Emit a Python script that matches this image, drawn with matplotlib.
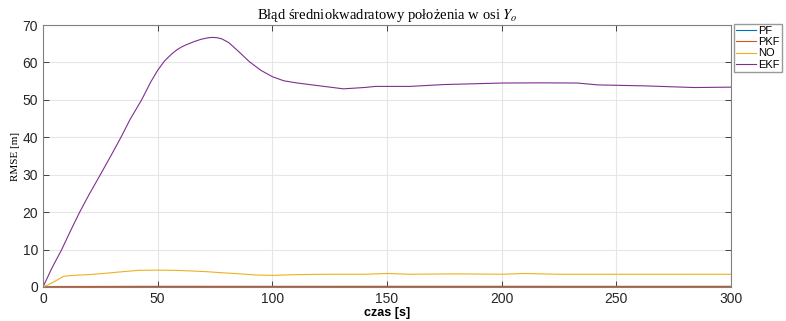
import matplotlib
matplotlib.use("Agg")
import matplotlib.pyplot as plt
import numpy as np

plt.rcParams['font.family'] = ['Liberation Sans', 'DejaVu Sans']
plt.rcParams['mathtext.fontset'] = 'stix'

# dane
t_ekf = [0, 4, 8, 12, 16, 20, 25, 30, 34, 38, 43, 47, 50, 53, 56, 58, 60, 62, 64,
         66, 69, 72, 74, 76, 78, 81, 85, 90, 95, 100, 105, 111, 120, 131, 140,
         145, 160, 175, 200, 218, 233, 242, 262, 284, 300]
ekf = [0, 5.2, 9.8, 15.0, 20.0, 24.6, 30.0, 35.5, 40.0, 44.8, 50.0, 54.8, 57.9,
       60.4, 62.2, 63.2, 64.0, 64.6, 65.1, 65.6, 66.2, 66.6, 66.7, 66.6, 66.3,
       65.3, 63.1, 60.2, 57.9, 56.2, 55.1, 54.5, 53.8, 52.95, 53.3, 53.6, 53.6,
       54.1, 54.5, 54.55, 54.5, 54.0, 53.75, 53.3, 53.4]

t_no = [0, 3, 6, 9, 13, 20, 28, 35, 42, 50, 57, 64, 71, 78, 86, 93, 100, 110,
        125, 140, 150, 160, 180, 200, 210, 225, 250, 275, 300]
no = [0, 0.8, 1.8, 2.85, 3.1, 3.3, 3.7, 4.1, 4.45, 4.5, 4.45, 4.3, 4.1, 3.8,
      3.5, 3.2, 3.1, 3.3, 3.4, 3.4, 3.6, 3.4, 3.5, 3.4, 3.6, 3.4, 3.4, 3.4, 3.4]

t_pf = [0, 5, 50, 100, 150, 200, 250, 300]
pf = [0, 0.08, 0.1, 0.1, 0.1, 0.1, 0.1, 0.1]
pkf = [0, 0.12, 0.18, 0.17, 0.18, 0.18, 0.17, 0.18]

labels = ['PF', 'PKF', 'NO', 'EKF']
colors = ['#0072BD', '#D95319', '#EDB120', '#7E2F8E']

fig = plt.figure(figsize=(7.86, 3.21), dpi=100)
ax = fig.add_axes([0.0547, 0.106, 0.8753, 0.816])

ax.plot(t_pf, pf, color=colors[0], lw=0.8, label=labels[0])
ax.plot(t_pf, pkf, color=colors[1], lw=0.8, label=labels[1])
ax.plot(t_no, no, color=colors[2], lw=0.8, label=labels[2])
ax.plot(t_ekf, ekf, color=colors[3], lw=0.8, label=labels[3])

ax.set_xlim(0, 300)
ax.set_ylim(0, 70)
ax.set_xticks(np.arange(0, 301, 50))
ax.set_yticks(np.arange(0, 71, 10))
ax.grid(True, color='#e6e6e6', lw=0.8)
ax.set_axisbelow(True)
ax.tick_params(direction='in', top=True, right=True, labelsize=10,
               colors='#262626', length=4, width=0.6)
for s in ax.spines.values():
    s.set_color('#808080')
    s.set_linewidth(0.8)

ax.set_title(r'Błąd średniokwadratowy położenia w osi $Y_o$',
             family='Liberation Serif', fontsize=10.5, pad=4)
ax.set_ylabel('RMSE [m]', family='Liberation Serif', fontsize=8, labelpad=2)
ax.set_xlabel('czas [s]', fontweight='bold', fontsize=9, labelpad=1)

fig.legend(loc='upper left', bbox_to_anchor=(734 / 786, 1 - 24 / 321),
           fontsize=8, frameon=True, fancybox=False, edgecolor='#808080',
           borderpad=0.2, labelspacing=0.1, handlelength=1.8, handletextpad=0.15,
           borderaxespad=0)

fig.savefig('out.png', dpi=100)
